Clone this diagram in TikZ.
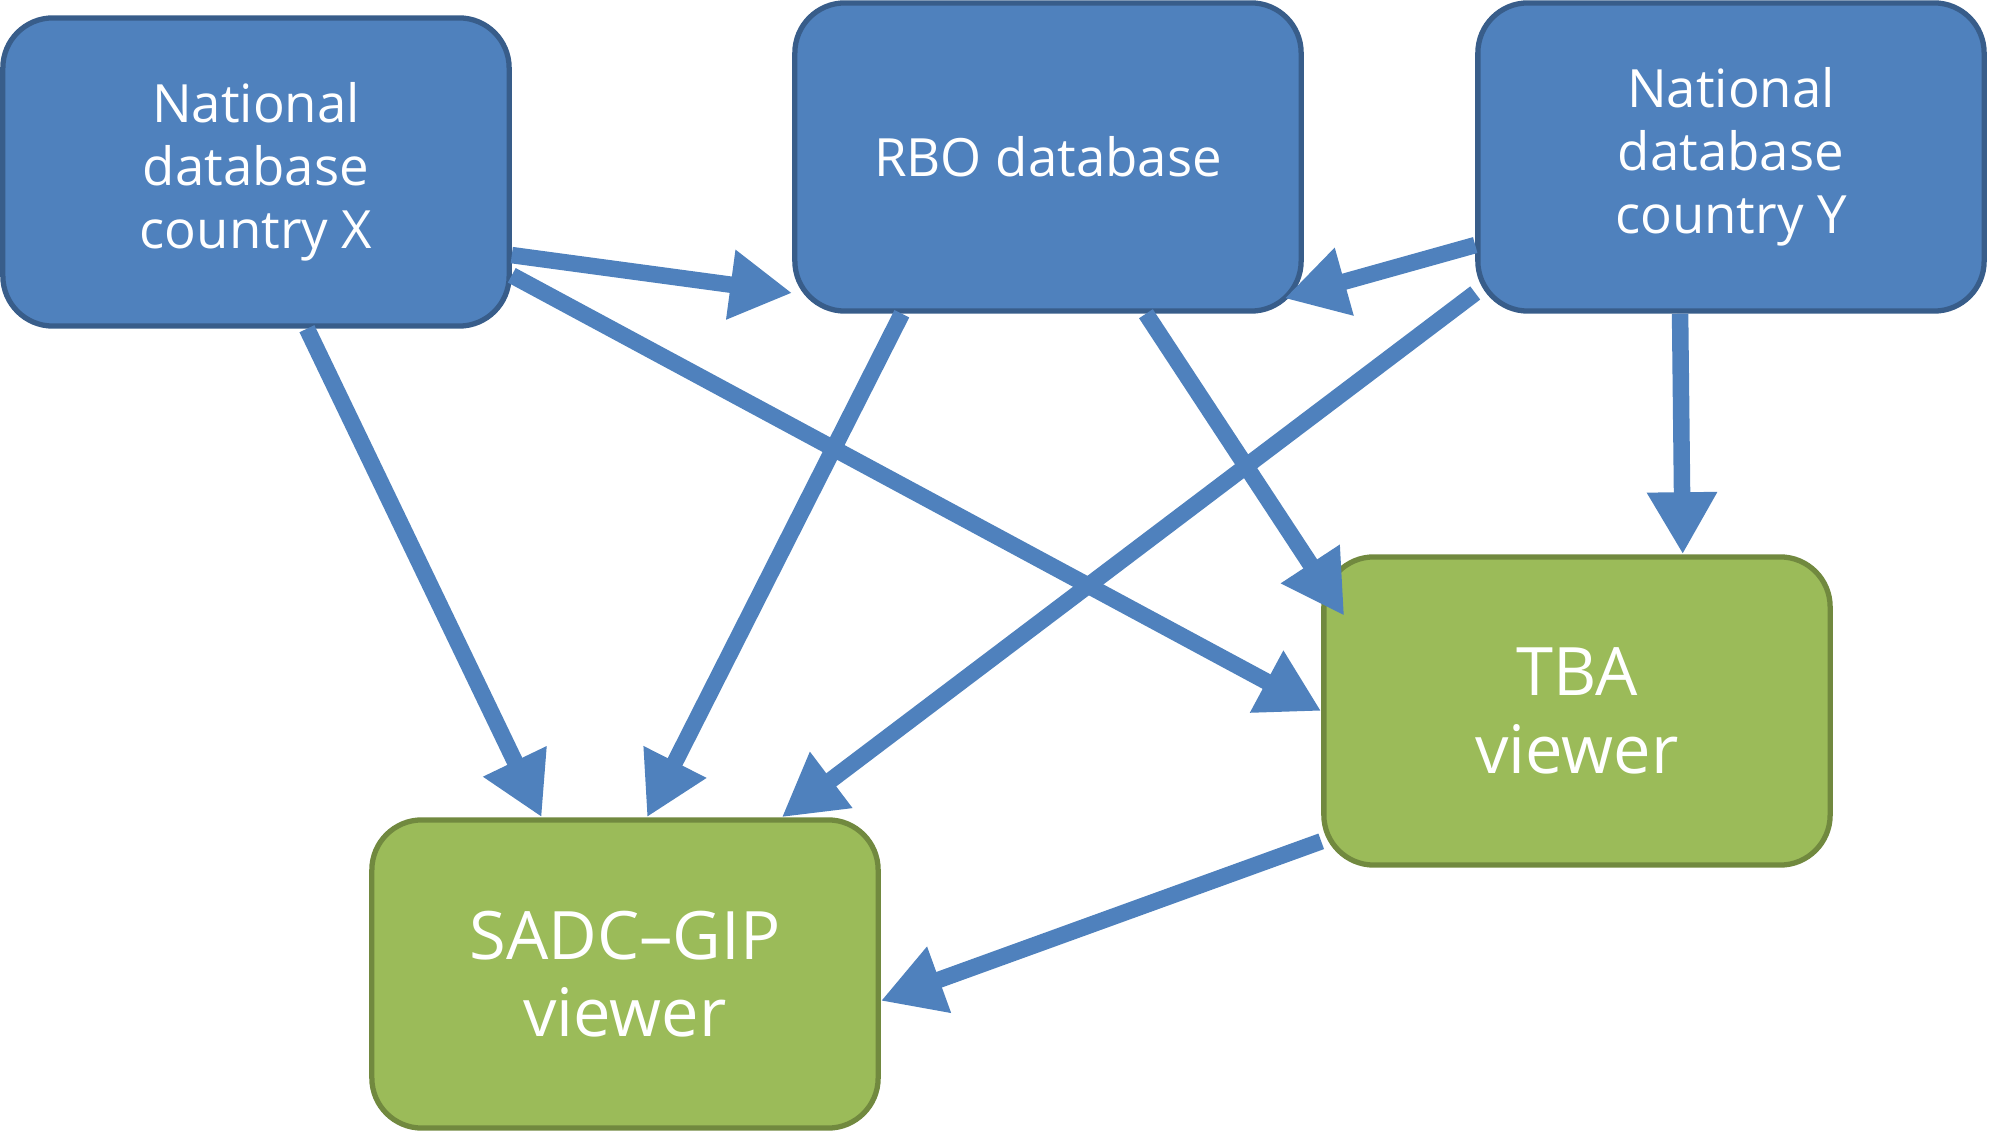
\documentclass[tikz,border=0pt]{standalone}
\usepackage{fontspec}
\setmainfont{Open Sans}
\usetikzlibrary{arrows.meta}
\definecolor{dbblue}{HTML}{4F81BD}
\definecolor{dbedge}{HTML}{385D8A}
\definecolor{viewgreen}{HTML}{9BBB59}
\definecolor{viewedge}{HTML}{71893F}
\begin{document}
\begin{tikzpicture}[x=0.01cm, y=-0.01cm,
    box/.style={rectangle, rounded corners=0.5cm, line width=1.5pt,
        minimum width=5.06cm, minimum height=3.08cm, align=center,
        text=white},
    dbnode/.style={box, fill=dbblue, draw=dbedge,
        font=\fontsize{15}{18}\selectfont},
    viewnode/.style={box, fill=viewgreen, draw=viewedge,
        font=\fontsize{19}{22}\selectfont},
    link/.style={draw=dbblue, line width=0.165cm,
        -{Triangle[width=0.66cm, length=0.62cm]}}]
        \useasboundingbox (0,0) rectangle (1990,1131);

        % Databases along the top
        \node[dbnode] (natX) at (256,172) {National\\database\\country X};
        \node[dbnode] (rbo) at (1048,157) {RBO database};
        \node[dbnode] (natY) at (1731,157) {National\\database\\country Y};

        % Viewers below
        \node[viewnode] (tba) at (1577,711) {TBA\\viewer};
        \node[viewnode] (sadc) at (625,974) {SADC–GIP\\viewer};

        % Data flows
        \draw[link] (natX.-18) -- (rbo.208);
        \draw[link] (natX.-22) -- (tba.west);
        \draw[link] (natX.-72) -- (sadc.118);
        \draw[link] (rbo.-133) -- (sadc.82);
        \draw[link, shorten >=-0.42cm] (rbo.-58.5) -- (tba.153);
        \draw[link, shorten >=-0.2cm] (natY.199) -- (rbo.-28.5);
        \draw[link] (natY.208) -- (sadc.45);
        \draw[link] (natY.-108) -- (tba.56);
        \draw[link] (tba.207) -- (sadc.-6.5);
    \end{tikzpicture}
\end{document}
